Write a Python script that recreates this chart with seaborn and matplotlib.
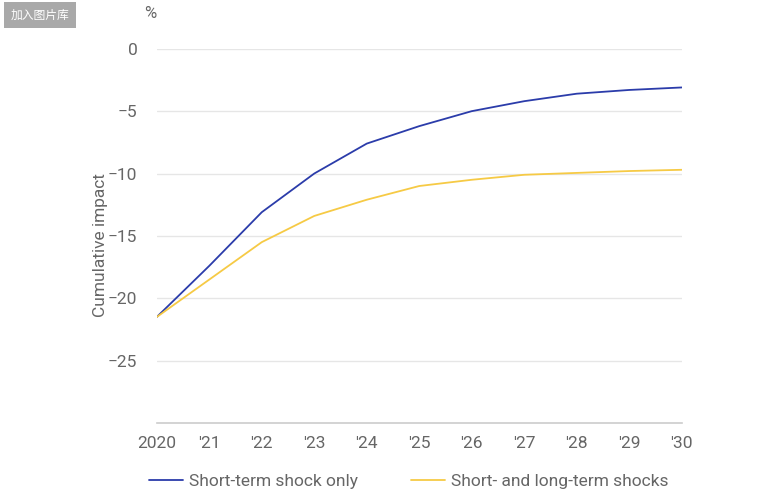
import pandas as pd
import seaborn as sns
import matplotlib.pyplot as plt
from matplotlib.lines import Line2D

years = list(range(2020, 2031))
tick_labels = ["2020", "'21", "'22", "'23", "'24", "'25", "'26", "'27", "'28", "'29", "'30"]
short_term = [-21.5, -17.4, -13.1, -10.0, -7.6, -6.2, -5.0, -4.2, -3.6, -3.3, -3.1]
short_long = [-21.5, -18.5, -15.5, -13.4, -12.1, -11.0, -10.5, -10.1, -9.95, -9.8, -9.7]
series_names = ["Short-term shock only", "Short- and long-term shocks"]
colors = ["#2b3caa", "#f6ca45"]

df = pd.DataFrame({
    "year": years * 2,
    "impact": short_term + short_long,
    "series": [series_names[0]] * len(years) + [series_names[1]] * len(years),
})

sns.set_style("white")
plt.rcParams['font.family'] = ['Roboto', 'DejaVu Sans']

fig = plt.figure(figsize=(7.8, 5.03), dpi=100)
ax = fig.add_axes([0.201, 0.159, 0.673, 0.744])

sns.lineplot(data=df, x="year", y="impact", hue="series",
             palette=colors, linewidth=1.3, ax=ax, legend=False)

ax.set_xlim(2020, 2030)
ax.set_ylim(-30, 0)
ax.set_xticks(years)
ax.set_xticklabels(tick_labels)
ax.set_yticks([0, -5, -10, -15, -20, -25])
ax.set_yticklabels(["0", "\u22125", "\u221210", "\u221215", "\u221220", "\u221225"])
ax.tick_params(axis="both", length=0, labelsize=12.5, labelcolor="#666666")
ax.tick_params(axis="x", pad=9)
ax.tick_params(axis="y", pad=14)
ax.yaxis.grid(True, color="#e6e6e6", linewidth=1)
ax.set_axisbelow(True)
for s in ["top", "right", "left"]:
    ax.spines[s].set_visible(False)
ax.spines["bottom"].set_color("#cccccc")
ax.spines["bottom"].set_linewidth(1.2)

ax.set_xlabel("")
ax.set_ylabel("Cumulative impact", fontsize=12.5, color="#666666")
ax.yaxis.set_label_coords(-0.092, 0.476)
fig.text(150 / 780, 1 - 13 / 503, "%", fontsize=12, color="#666666", ha="center", va="center")

# legend at the bottom
handles = [Line2D([0], [0], color=c, lw=1.3) for c in colors]
fig.legend(handles, series_names, loc="center", bbox_to_anchor=(0.524, 1 - 481 / 503), ncol=2,
           frameon=False, fontsize=12.5, labelcolor="#666666", handlelength=2.0,
           handletextpad=0.35, columnspacing=3.0)

# badge in the corner
fig.text(40 / 780, 1 - 15 / 503, "加入图片库", fontsize=8.5, color="white", ha="center", va="center",
         family=['Noto Sans CJK SC', 'DejaVu Sans'],
         bbox=dict(boxstyle="square,pad=0.55", fc="#a9a9a9", ec="none"))

fig.savefig("out.png", dpi=100)
